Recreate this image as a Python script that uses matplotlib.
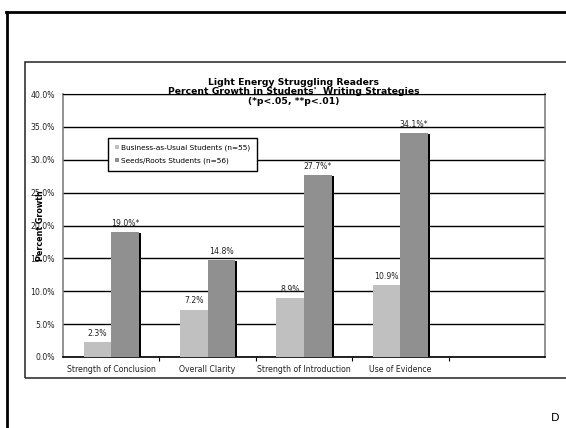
import numpy as np
import matplotlib.pyplot as plt
from matplotlib.lines import Line2D
from matplotlib.patches import Rectangle

categories = ["Strength of Conclusion", "Overall Clarity", "Strength of Introduction", "Use of Evidence", ""]
business = [2.3, 7.2, 8.9, 10.9]
seeds = [19.0, 14.8, 27.7, 34.1]
business_labels = ["2.3%", "7.2%", "8.9%", "10.9%"]
seeds_labels = ["19.0%*", "14.8%", "27.7%*", "34.1%*"]
yticks = [0, 5, 10, 15, 20, 25, 30, 35, 40]

W, H = 566, 428
fig = plt.figure(figsize=(W / 100, H / 100), dpi=100)
fig.patch.set_facecolor("white")

# outer slide frame
fig.add_artist(Line2D([6 / W, 1], [1 - 12 / H] * 2, color="black", lw=2))
fig.add_artist(Line2D([7 / W] * 2, [0, 1 - 12 / H], color="black", lw=2))
# chart area frame
fig.add_artist(Rectangle((25 / W, 1 - 378 / H), 1, (378 - 62) / H,
                         fill=False, edgecolor="#333333", lw=1.2))

ax = fig.add_axes([63 / W, 1 - 357 / H, (545 - 63) / W, (357 - 94) / H])
ax.set_facecolor("none")

x = np.arange(len(business))
w = 1 / 3.5
light = "#c0c0c0"
dark = "#909090"
fs = 5.6

# shadow behind dark bars
ax.bar(x + w / 2 + 0.022, np.array(seeds) - 0.15, width=w, color="black", zorder=2)
ax.bar(x - w / 2, business, width=w, color=light, zorder=3, label="Business-as-Usual Students (n=55)")
ax.bar(x + w / 2, seeds, width=w, color=dark, zorder=3, label="Seeds/Roots Students (n=56)")

for i in range(len(business)):
    ax.annotate(business_labels[i], (x[i] - w / 2, business[i]), xytext=(0, 3),
                textcoords="offset points", ha="center", va="bottom", fontsize=fs, color="#222222")
    ax.annotate(seeds_labels[i], (x[i] + w / 2, seeds[i]), xytext=(0, 3),
                textcoords="offset points", ha="center", va="bottom", fontsize=fs, color="#222222")

ax.set_xlim(-0.5, len(categories) - 0.5)
ax.set_ylim(0, 40)
ax.set_yticks(yticks)
ax.set_yticklabels([f"{v:.1f}%" for v in yticks], fontsize=fs, color="#222222")
ax.yaxis.grid(True, color="black", lw=1)
ax.set_axisbelow(True)
ax.tick_params(axis="y", length=0, pad=6)

ax.set_xticks(np.arange(0.5, len(categories) - 0.5, 1))
ax.set_xticklabels([])
ax.set_xticks(np.arange(len(categories)), minor=True)
ax.set_xticklabels(categories, minor=True, fontsize=fs, color="#222222")
ax.tick_params(axis="x", which="major", length=3, direction="out", color="black")
ax.tick_params(axis="x", which="minor", length=0, pad=6)

for s in ["left", "right"]:
    ax.spines[s].set_color("#808080")
    ax.spines[s].set_linewidth(1.2)
ax.spines["bottom"].set_color("black")
ax.spines["bottom"].set_linewidth(1.2)
ax.spines["top"].set_color("black")

ax.set_ylabel("Percent Growth", fontsize=5.8, fontweight="bold", labelpad=-11)

fig.text(293.5 / W, 1 - 92 / H, "Light Energy Struggling Readers\nPercent Growth in Students'  Writing Strategies\n(*p<.05, **p<.01)",
         ha="center", va="center", fontsize=6.7, fontweight="bold", linespacing=1.1, zorder=5)

leg = ax.legend(loc="upper left", bbox_to_anchor=((108 - 63) / (545 - 63), 1 - (138 - 94) / (357 - 94)),
                fontsize=5.3, frameon=True, fancybox=False, edgecolor="black", framealpha=1,
                handlelength=0.6, handleheight=0.6, handletextpad=0.3, borderpad=0.9,
                labelspacing=0.9, borderaxespad=0)
leg.get_frame().set_linewidth(1)

fig.text(555 / W, 1 - 418 / H, "D", ha="center", va="center", fontsize=8)

fig.savefig("out.png", dpi=100)
